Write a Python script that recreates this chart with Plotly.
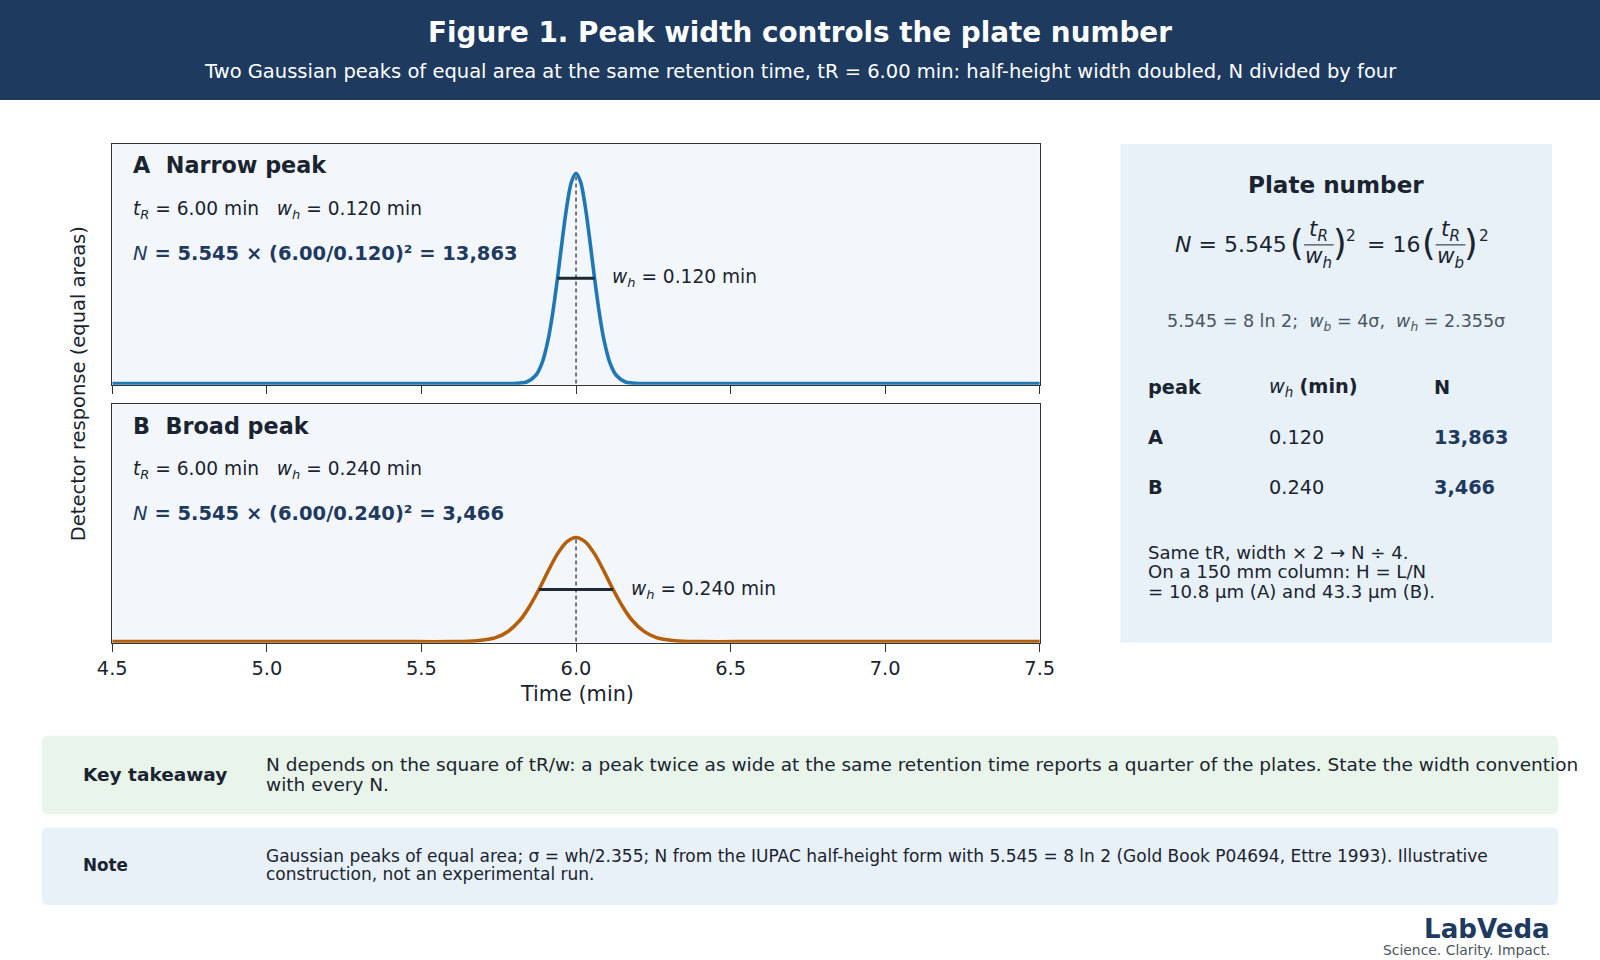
import plotly.graph_objects as go

# peak parameters
t_r = 6.00
peaks = ["A", "B"]
wh = [0.120, 0.240]
plates = [13863, 3466]
colors = ["#1f77b4", "#b35f0c"]

# curves (normalised detector response)
xa = [4.50, 5.70, 5.80, 5.84, 5.87, 5.89, 5.91, 5.925, 5.94, 5.955, 5.97, 5.985,
      6.00, 6.015, 6.03, 6.045, 6.06, 6.075, 6.09, 6.11, 6.13, 6.16, 6.20, 6.30, 7.50]
ya = [0, 0, 0.000, 0.007, 0.039, 0.097, 0.210, 0.339, 0.500, 0.677, 0.841, 0.958,
      1.000, 0.958, 0.841, 0.677, 0.500, 0.339, 0.210, 0.097, 0.039, 0.007, 0.000, 0, 0]
xb = [4.50, 5.40, 5.60, 5.68, 5.74, 5.78, 5.82, 5.85, 5.88, 5.91, 5.94, 5.97,
      6.00, 6.03, 6.06, 6.09, 6.12, 6.15, 6.18, 6.22, 6.26, 6.32, 6.40, 6.60, 7.50]
yb = [0, 0, 0.000, 0.004, 0.019, 0.049, 0.105, 0.170, 0.250, 0.339, 0.421, 0.479,
      0.500, 0.479, 0.421, 0.339, 0.250, 0.170, 0.105, 0.049, 0.019, 0.004, 0.000, 0, 0]
heights = [1.0, 0.5]

tick_vals = [4.5, 5.0, 5.5, 6.0, 6.5, 7.0, 7.5]

W, H = 1600, 960
# positions below were measured on a 1568-wide view of the reference
VW, VH = 1568, 960 * 1568 / 1600
FONT = "DejaVu Sans"
DARK = "#1a2430"
NAVY = "#1e3a5f"
GREY = "#4a5562"
SP = "\u00a0"


def px(x):
    return x / VW


def py(y):
    return 1 - y / VH


def rounded(x0, y0, x1, y1, r=6):
    # rounded rectangle path in paper coordinates
    rx, ry = r / VW, r / VH
    a, b, c, d = px(x0), py(y1), px(x1), py(y0)
    return ("M %f,%f L %f,%f Q %f,%f %f,%f L %f,%f Q %f,%f %f,%f L %f,%f Q %f,%f %f,%f "
            "L %f,%f Q %f,%f %f,%f Z" % (
                a + rx, b, c - rx, b, c, b, c, b + ry, c, d - ry, c, d, c - rx, d,
                a + rx, d, a, d, a, d - ry, a, b + ry, a, b, a + rx, b))


fig = go.Figure()

curves = [(xa, ya), (xb, yb)]
for i in range(2):
    ax = "" if i == 0 else "2"
    xs, ys = curves[i]
    fig.add_trace(go.Scatter(x=xs, y=ys, mode="lines", xaxis="x" + ax, yaxis="y" + ax,
                             line=dict(color=colors[i], width=3.6, shape="spline", smoothing=0.8),
                             hoverinfo="skip"))
    # retention time marker
    fig.add_trace(go.Scatter(x=[t_r, t_r], y=[0, heights[i]], mode="lines",
                             xaxis="x" + ax, yaxis="y" + ax,
                             line=dict(color="#222", width=1.2, dash="4px,3px"), hoverinfo="skip"))
    # half-height width bar
    fig.add_trace(go.Scatter(x=[t_r - wh[i] / 2, t_r + wh[i] / 2], y=[heights[i] / 2] * 2,
                             mode="lines", xaxis="x" + ax, yaxis="y" + ax,
                             line=dict(color="#1f2a33", width=3), hoverinfo="skip"))

axis_common = dict(range=[4.5, 7.5], tickvals=tick_vals, ticks="outside", ticklen=8,
                   tickcolor="#333", showline=True, linecolor="#333", linewidth=1.2,
                   mirror=True, showgrid=False, zeroline=False, automargin=False)
yaxis_common = dict(range=[-0.006, 1.14], showticklabels=False, showline=True, linecolor="#333",
                    linewidth=1.2, mirror=True, showgrid=False, zeroline=False, ticks="",
                    automargin=False)

x0, x1 = px(110), px(1019)
fig.update_layout(
    width=W, height=H, margin=dict(l=0, r=0, t=0, b=0, pad=0), autosize=False,
    paper_bgcolor="white", plot_bgcolor="#f3f7fc", showlegend=False,
    font=dict(family=FONT, color=DARK),
    xaxis=dict(domain=[x0, x1], anchor="y", showticklabels=False, **axis_common),
    yaxis=dict(domain=[py(377), py(141)], anchor="x", **yaxis_common),
    xaxis2=dict(domain=[x0, x1], anchor="y2", tickformat=".1f",
                tickfont=dict(size=19.4, color=DARK), **axis_common),
    yaxis2=dict(domain=[py(630), py(396)], anchor="x2", **yaxis_common),
)

shapes = [
    dict(type="rect", xref="paper", yref="paper", x0=0, x1=1, y0=py(98), y1=1,
         fillcolor=NAVY, line_width=0, layer="below"),
    dict(type="rect", xref="paper", yref="paper", x0=px(1098), x1=px(1521), y0=py(630), y1=py(141),
         fillcolor="#e8f0f8", line_width=0, layer="below"),
    dict(type="path", xref="paper", yref="paper", path=rounded(41, 721, 1527, 798),
         fillcolor="#e9f4ea", line_width=0, layer="below"),
    dict(type="path", xref="paper", yref="paper", path=rounded(41, 811, 1527, 887),
         fillcolor="#e8f0f8", line_width=0, layer="below"),
]

ann = []


def text(x, y, s, size, color=DARK, xanchor="left", bold=False, **kw):
    if bold:
        s = "<b>" + s + "</b>"
    ann.append(dict(x=px(x), y=py(y), xref="paper", yref="paper", text=s, showarrow=False,
                    xanchor=xanchor, yanchor="middle", font=dict(size=size, color=color, family=FONT),
                    **kw))


# header
text(784, 32, "Figure 1. Peak width controls the plate number", 27.8, "white", "center", True)
text(784, 70, "Two Gaussian peaks of equal area at the same retention time, tR = 6.00 min: "
              "half-height width doubled, N divided by four", 19.5, "white", "center")

# panel texts
titles = ["A" + SP * 2 + "Narrow peak", "B" + SP * 2 + "Broad peak"]
tops = [141, 396]
for i in range(2):
    top = tops[i]
    text(128, top + 21, titles[i], 22.3, DARK, bold=True)
    text(128, top + 65, "<i>t<sub>R</sub></i> = %.2f min%s<i>w<sub>h</sub></i> = %.3f min"
         % (t_r, SP * 3, wh[i]), 18.6)
    text(128, top + 107, "<i>N</i><b> = 5.545 × (%.2f/%.3f)² = %s</b>"
         % (t_r, wh[i], format(plates[i], ",")), 19.5, NAVY)
    ann.append(dict(x=t_r + wh[i] / 2 + 0.05, y=heights[i] / 2, xref="x" if i == 0 else "x2",
                    yref="y" if i == 0 else "y2", showarrow=False, xanchor="left", yanchor="middle",
                    text="<i>w<sub>h</sub></i> = %.3f min" % wh[i], font=dict(size=18.6, color=DARK)))

# axis titles
text(77, 376, "Detector response (equal areas)", 19.5, DARK, "center", textangle=-90)
text(565, 680, "Time (min)", 20.8, DARK, "center")

# plate number panel
text(1309, 181, "Plate number", 23.1, DARK, "center", True)
text(1263, 240, "<i>N</i> = 5.545", 22, DARK, "right")
text(1271, 238, "(", 35, DARK, "center")
text(1292, 226, "<i>t<sub>R</sub></i>", 21.5, DARK, "center")
text(1292, 252, "<i>w<sub>h</sub></i>", 21.5, DARK, "center")
text(1313, 238, ")", 35, DARK, "center")
text(1324, 231, "2", 15.3, DARK, "center")
text(1394, 240, "= 16", 22, DARK, "right")
text(1400, 238, "(", 35, DARK, "center")
text(1421, 226, "<i>t<sub>R</sub></i>", 21.5, DARK, "center")
text(1421, 252, "<i>w<sub>b</sub></i>", 21.5, DARK, "center")
text(1442, 238, ")", 35, DARK, "center")
text(1454, 231, "2", 15.3, DARK, "center")
shapes += [
    dict(type="line", xref="paper", yref="paper", x0=px(1278), x1=px(1307), y0=py(240), y1=py(240),
         line=dict(color=DARK, width=1)),
    dict(type="line", xref="paper", yref="paper", x0=px(1407), x1=px(1436), y0=py(240), y1=py(240),
         line=dict(color=DARK, width=1)),
]
text(1309, 316, "5.545 = 8 ln 2;%s<i>w<sub>b</sub></i> = 4σ,%s<i>w<sub>h</sub></i> = 2.355σ"
     % (SP * 2, SP * 2), 17.5, GREY, "center")

# table
text(1123, 380, "peak", 19.3, DARK, bold=True)
text(1242, 380, "<i>w<sub>h</sub></i> <b>(min)</b>", 19.3, DARK)
text(1403, 380, "N", 19.3, DARK, bold=True)
rows_y = [429, 478]
for i in range(2):
    text(1123, rows_y[i], peaks[i], 19.3, DARK, bold=True)
    text(1242, rows_y[i], "%.3f" % wh[i], 19.3, DARK)
    text(1403, rows_y[i], format(plates[i], ","), 19.3, NAVY, bold=True)

side_notes = ["Same tR, width × 2 → N ÷ 4.", "On a 150 mm column: H = L/N",
              "= 10.8 µm (A) and 43.3 µm (B)."]
for k, line in enumerate(side_notes):
    text(1123, 541 + 19.5 * k, line, 18.1, DARK)

# bottom boxes
text(79, 759, "Key takeaway", 18.5, DARK, bold=True)
key_lines = ["N depends on the square of tR/w: a peak twice as wide at the same retention time "
             "reports a quarter of the plates. State the width convention", "with every N."]
for k, line in enumerate(key_lines):
    text(259, 749 + 20 * k, line, 18.5, DARK)
text(79, 848, "Note", 16.8, DARK, bold=True)
note_lines = ["Gaussian peaks of equal area; σ = wh/2.355; N from the IUPAC half-height form with "
              "5.545 = 8 ln 2 (Gold Book P04694, Ettre 1993). Illustrative",
              "construction, not an experimental run."]
for k, line in enumerate(note_lines):
    text(259, 839 + 18 * k, line, 17, DARK)

# footer
text(1521, 910, "LabVeda", 26.1, NAVY, "right", True)
text(1521, 931, "Science. Clarity. Impact.", 13.9, GREY, "right")

fig.update_layout(shapes=shapes, annotations=ann)

# drop the page's default body margin so the figure sits flush in the window
fig.write_html("out.html", config={"displayModeBar": False},
               post_script="document.body.style.margin='0';")
